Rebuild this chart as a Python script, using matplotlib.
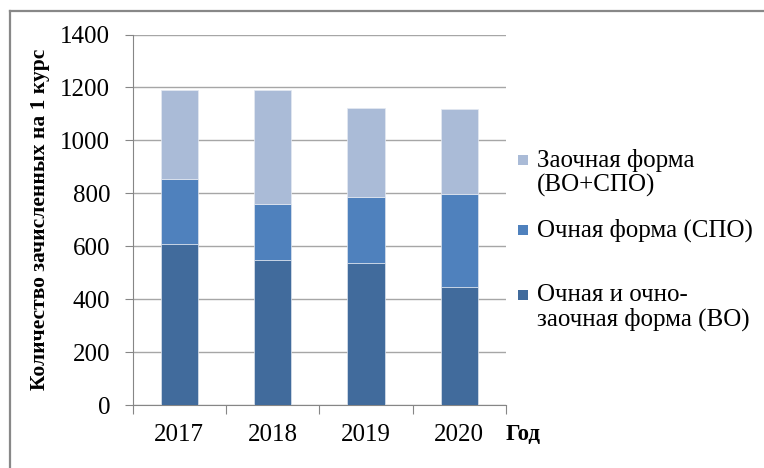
import matplotlib
matplotlib.use("Agg")
import matplotlib.pyplot as plt
from matplotlib.patches import Rectangle
from matplotlib.lines import Line2D
import numpy as np

years = ["2017", "2018", "2019", "2020"]
full_time_vo = [607, 548, 538, 447]          # Очная и очно-заочная форма (ВО)
full_time_spo = [246, 211, 249, 351]         # Очная форма (СПО)
part_time = [338, 432, 337, 322]             # Заочная форма (ВО+СПО)

series_labels = ["Заочная форма\n(ВО+СПО)", "Очная форма (СПО)", "Очная и очно-\nзаочная форма (ВО)"]
colors = {"vo": "#416B9C", "spo": "#4F81BD", "zo": "#AABBD7"}
yticks = [0, 200, 400, 600, 800, 1000, 1200, 1400]

plt.rcParams["font.family"] = ["Liberation Serif", "DejaVu Serif"]

W, H = 764, 468
fig = plt.figure(figsize=(W / 100, H / 100), dpi=100)
ax = fig.add_axes([132.5 / W, 1 - 405 / H, (506 - 132.5) / W, (405 - 34.5) / H])

x = np.arange(len(years))
bw = 0.4
b1 = np.array(full_time_vo)
b2 = np.array(full_time_spo)
b3 = np.array(part_time)
ax.bar(x, b1, bw, color=colors["vo"], edgecolor="#DDE4EE", linewidth=0.5, zorder=3)
ax.bar(x, b2, bw, bottom=b1, color=colors["spo"], edgecolor="#DDE4EE", linewidth=0.5, zorder=3)
ax.bar(x, b3, bw, bottom=b1 + b2, color=colors["zo"], edgecolor="#E4E9F2", linewidth=0.5, zorder=3)

ax.set_xlim(-0.5, len(years) - 0.5)
ax.set_ylim(0, 1400)
ax.set_yticks(yticks)
ax.set_yticklabels([str(v) for v in yticks])
ax.yaxis.grid(True, color="#A6A6A6", linewidth=1.0, zorder=0)
ax.set_axisbelow(True)

ax.set_xticks(x)
ax.set_xticklabels(years)
ax.set_xticks(np.arange(len(years) + 1) - 0.5, minor=True)
ax.tick_params(axis="x", which="major", length=0, pad=14, labelsize=18)
ax.tick_params(axis="x", which="minor", length=6.5, width=0.8, color="#868686", direction="out")
ax.tick_params(axis="y", which="major", length=6, width=0.8, color="#868686", pad=10, labelsize=18)

for s in ["top", "right"]:
    ax.spines[s].set_visible(False)
for s in ["left", "bottom"]:
    ax.spines[s].set_color("#868686")
    ax.spines[s].set_linewidth(0.8)

fig.text(40 / W, 1 - 219 / H, "Количество зачисленных на 1 курс", rotation=90,
         ha="center", va="center", fontsize=15.5, fontweight="bold")
fig.text(506 / W, 1 - 435 / H, "Год", ha="left", va="center", fontsize=16.5, fontweight="bold")

# legend (manual, marker aligned to first text line)
leg_items = [
    (series_labels[0], colors["zo"], 160),
    (series_labels[1], colors["spo"], 230),
    (series_labels[2], colors["vo"], 295),
]
for label, col, yc in leg_items:
    fig.add_artist(Rectangle((518 / W, 1 - (yc + 5) / H), 10 / W, 10 / H,
                             transform=fig.transFigure, facecolor=col, edgecolor="none"))
    fig.text(537 / W, 1 - (yc - 11) / H, label, ha="left", va="top", fontsize=18,
             linespacing=1.1)

# outer chart frame
fig.add_artist(Line2D([10 / W, 10 / W], [0, 1 - 11 / H], transform=fig.transFigure,
                      color="#888888", linewidth=1.6))
fig.add_artist(Line2D([10 / W, 1], [1 - 11 / H, 1 - 11 / H], transform=fig.transFigure,
                      color="#888888", linewidth=1.6))

fig.savefig("out.png", dpi=100)
